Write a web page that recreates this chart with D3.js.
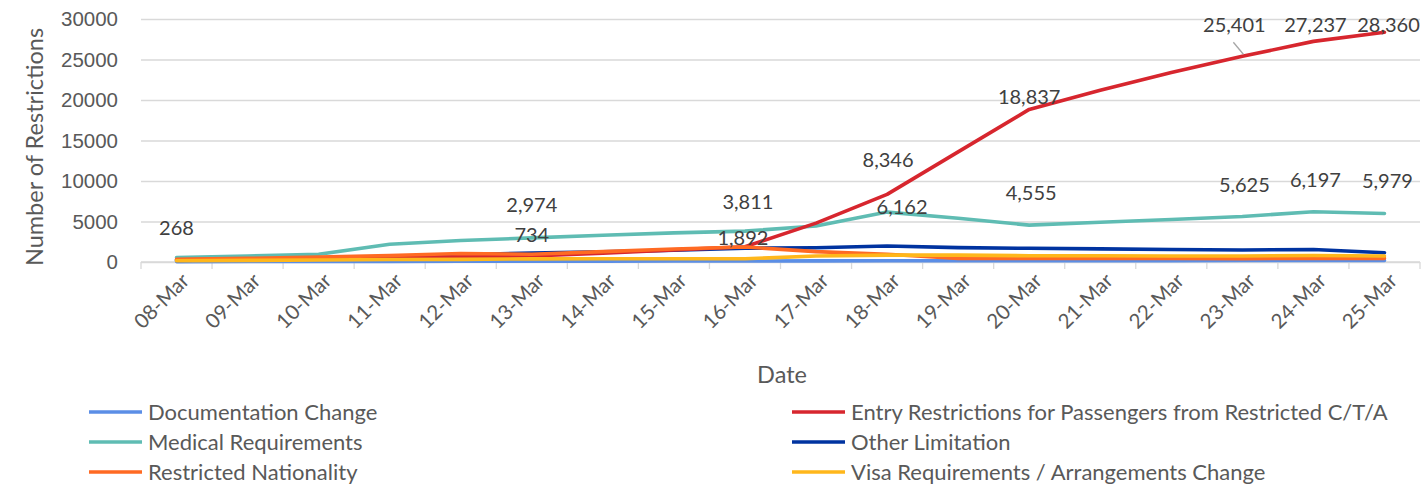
<!DOCTYPE html>
<html>
<head>
<meta charset="utf-8">
<script src="https://cdn.jsdelivr.net/npm/d3@7"></script>
<style>
  body { margin: 0; background: #fff; }
  svg { font-family: Lato, "Open Sans", sans-serif; }
</style>
</head>
<body>
<svg id="chart" width="1427" height="485"></svg>
<script>
// chart data
let dates = ["08-Mar", "09-Mar", "10-Mar", "11-Mar", "12-Mar", "13-Mar", "14-Mar", "15-Mar", "16-Mar",
             "17-Mar", "18-Mar", "19-Mar", "20-Mar", "21-Mar", "22-Mar", "23-Mar", "24-Mar", "25-Mar"]
let seriesNames = ["Documentation Change", "Entry Restrictions for Passengers from Restricted C/T/A",
                   "Medical Requirements", "Other Limitation", "Restricted Nationality",
                   "Visa Requirements / Arrangements Change"]
let documentation = [50, 60, 70, 80, 90, 100, 110, 120, 130, 140, 150, 150, 160, 170, 170, 180, 200, 200]
let entry = [268, 350, 450, 550, 650, 734, 1100, 1500, 1892, 4800, 8346, 13600, 18837, 21200, 23400, 25401, 27237, 28360]
let medical = [560, 740, 950, 2200, 2650, 2974, 3300, 3600, 3811, 4450, 6162, 5400, 4555, 4900, 5250, 5625, 6197, 5979]
let other = [200, 300, 400, 600, 900, 1100, 1250, 1450, 1700, 1750, 1980, 1770, 1690, 1620, 1550, 1480, 1550, 1150]
let nationality = [330, 450, 600, 800, 1050, 950, 1280, 1600, 1850, 1280, 950, 450, 450, 450, 430, 420, 450, 450]
let visa = [150, 200, 250, 300, 330, 380, 400, 400, 400, 750, 850, 850, 780, 780, 750, 750, 800, 740]
let yTicks = [0, 5000, 10000, 15000, 20000, 25000, 30000]

// which points carry a data label, and how far the label sits from the point
let labelSeries = [1, 2, 1, 2, 1, 1, 2, 1, 2, 1, 2, 1, 2, 1, 2]
let labelIndex  = [0, 5, 5, 8, 8, 10, 10, 12, 12, 15, 15, 16, 16, 17, 17]
let labelDx     = [0, 0, 0, 3, -2, 1, 15, 0, 2, -8, 2, 2, 2, 4, 3]
let labelDy     = [-32, -33, -21, -29, -9, -34, -5, -12, -32, -31, -31, -16, -32, -7, -33]

let values = [documentation, entry, medical, other, nationality, visa]
let colors = ["#5b8ee6", "#d7262e", "#5fbcb3", "#0033a0", "#ff6a23", "#ffb71b"]
// excel draws series in order, the front one last
let drawOrder = [0, 2, 3, 1, 4, 5]

let svg = d3.select("#chart")
let plotLeft = 141, plotRight = 1420, plotTop = 19, plotBottom = 262

let x = d3.scaleBand().domain(dates).range([plotLeft, plotRight])
let y = d3.scaleLinear().domain([0, 30000]).range([plotBottom, plotTop])
let cx = d => x(d) + x.bandwidth() / 2

// gridlines + y labels
let yAxis = svg.append("g")
    .attr("transform", "translate(" + plotLeft + ",0)")
    .call(d3.axisLeft(y).tickValues(yTicks).tickSize(-(plotRight - plotLeft)).tickFormat(d3.format("d")).tickPadding(23))
yAxis.select(".domain").remove()
yAxis.selectAll("line").attr("stroke", "#d9d9d9").attr("stroke-width", 1.3)
yAxis.selectAll("text").attr("fill", "#595959").style("font-size", "20.5px")

// x axis line and tick marks between categories
let xAxis = svg.append("g").attr("transform", "translate(0," + plotBottom + ")")
xAxis.append("line").attr("x1", plotLeft).attr("x2", plotRight).attr("stroke", "#d9d9d9").attr("stroke-width", 1.3)
xAxis.selectAll(".tk").data(dates.concat(["end"])).join("line")
    .attr("x1", d => d === "end" ? plotRight : x(d))
    .attr("x2", d => d === "end" ? plotRight : x(d))
    .attr("y1", 0).attr("y2", 7)
    .attr("stroke", "#d9d9d9").attr("stroke-width", 1.3)
xAxis.selectAll(".lbl").data(dates).join("text")
    .attr("transform", d => "translate(" + (cx(d) + 9) + ",15) rotate(-45)")
    .attr("text-anchor", "end")
    .attr("dy", "0.35em")
    .attr("fill", "#595959")
    .style("font-size", "20.5px")
    .text(d => d)

// axis titles
svg.append("text")
    .attr("transform", "translate(43,147) rotate(-90)")
    .attr("text-anchor", "middle")
    .attr("fill", "#595959")
    .style("font-size", "23.5px")
    .text("Number of Restrictions")
svg.append("text")
    .attr("x", 782).attr("y", 383)
    .attr("text-anchor", "middle")
    .attr("fill", "#595959")
    .style("font-size", "23.5px")
    .text("Date")

// lines
let line = d3.line().x((v, i) => cx(dates[i])).y(v => y(v))
svg.append("g").selectAll("path").data(drawOrder).join("path")
    .attr("d", s => line(values[s]))
    .attr("fill", "none")
    .attr("stroke", s => colors[s])
    .attr("stroke-width", 3.6)
    .attr("stroke-linejoin", "round")
    .attr("stroke-linecap", "round")

// data labels
let labels = labelSeries.map((s, k) => ({
    s: s, i: labelIndex[k], dx: labelDx[k], dy: labelDy[k]
}))
// leader line for the 25,401 label
let lead = labels[9]
svg.append("line")
    .attr("x1", cx(dates[lead.i]) - 9).attr("y1", y(values[lead.s][lead.i]) + lead.dy + 17)
    .attr("x2", cx(dates[lead.i]) + 1).attr("y2", y(values[lead.s][lead.i]) - 2)
    .attr("stroke", "#a6a6a6").attr("stroke-width", 1.3)
svg.append("g").selectAll("text").data(labels).join("text")
    .attr("x", d => cx(dates[d.i]) + d.dx)
    .attr("y", d => y(values[d.s][d.i]) + d.dy)
    .attr("dy", "0.35em")
    .attr("text-anchor", "middle")
    .attr("fill", "#404040")
    .style("font-size", "20px")
    .text(d => d3.format(",")(values[d.s][d.i]))

// legend, two columns
let legend = svg.append("g")
legend.selectAll("g").data(seriesNames).join("g")
    .attr("transform", (d, i) => "translate(" + (i % 2 === 0 ? 89 : 792) + "," + (412 + Math.floor(i / 2) * 30) + ")")
    .each(function(d, i) {
        let g = d3.select(this)
        g.append("line").attr("x1", 0).attr("x2", 53)
            .attr("stroke", colors[i]).attr("stroke-width", 3.6)
        g.append("text").attr("x", 59).attr("dy", "0.35em")
            .attr("fill", "#595959").style("font-size", "22px").text(d)
    })
</script>
</body>
</html>
